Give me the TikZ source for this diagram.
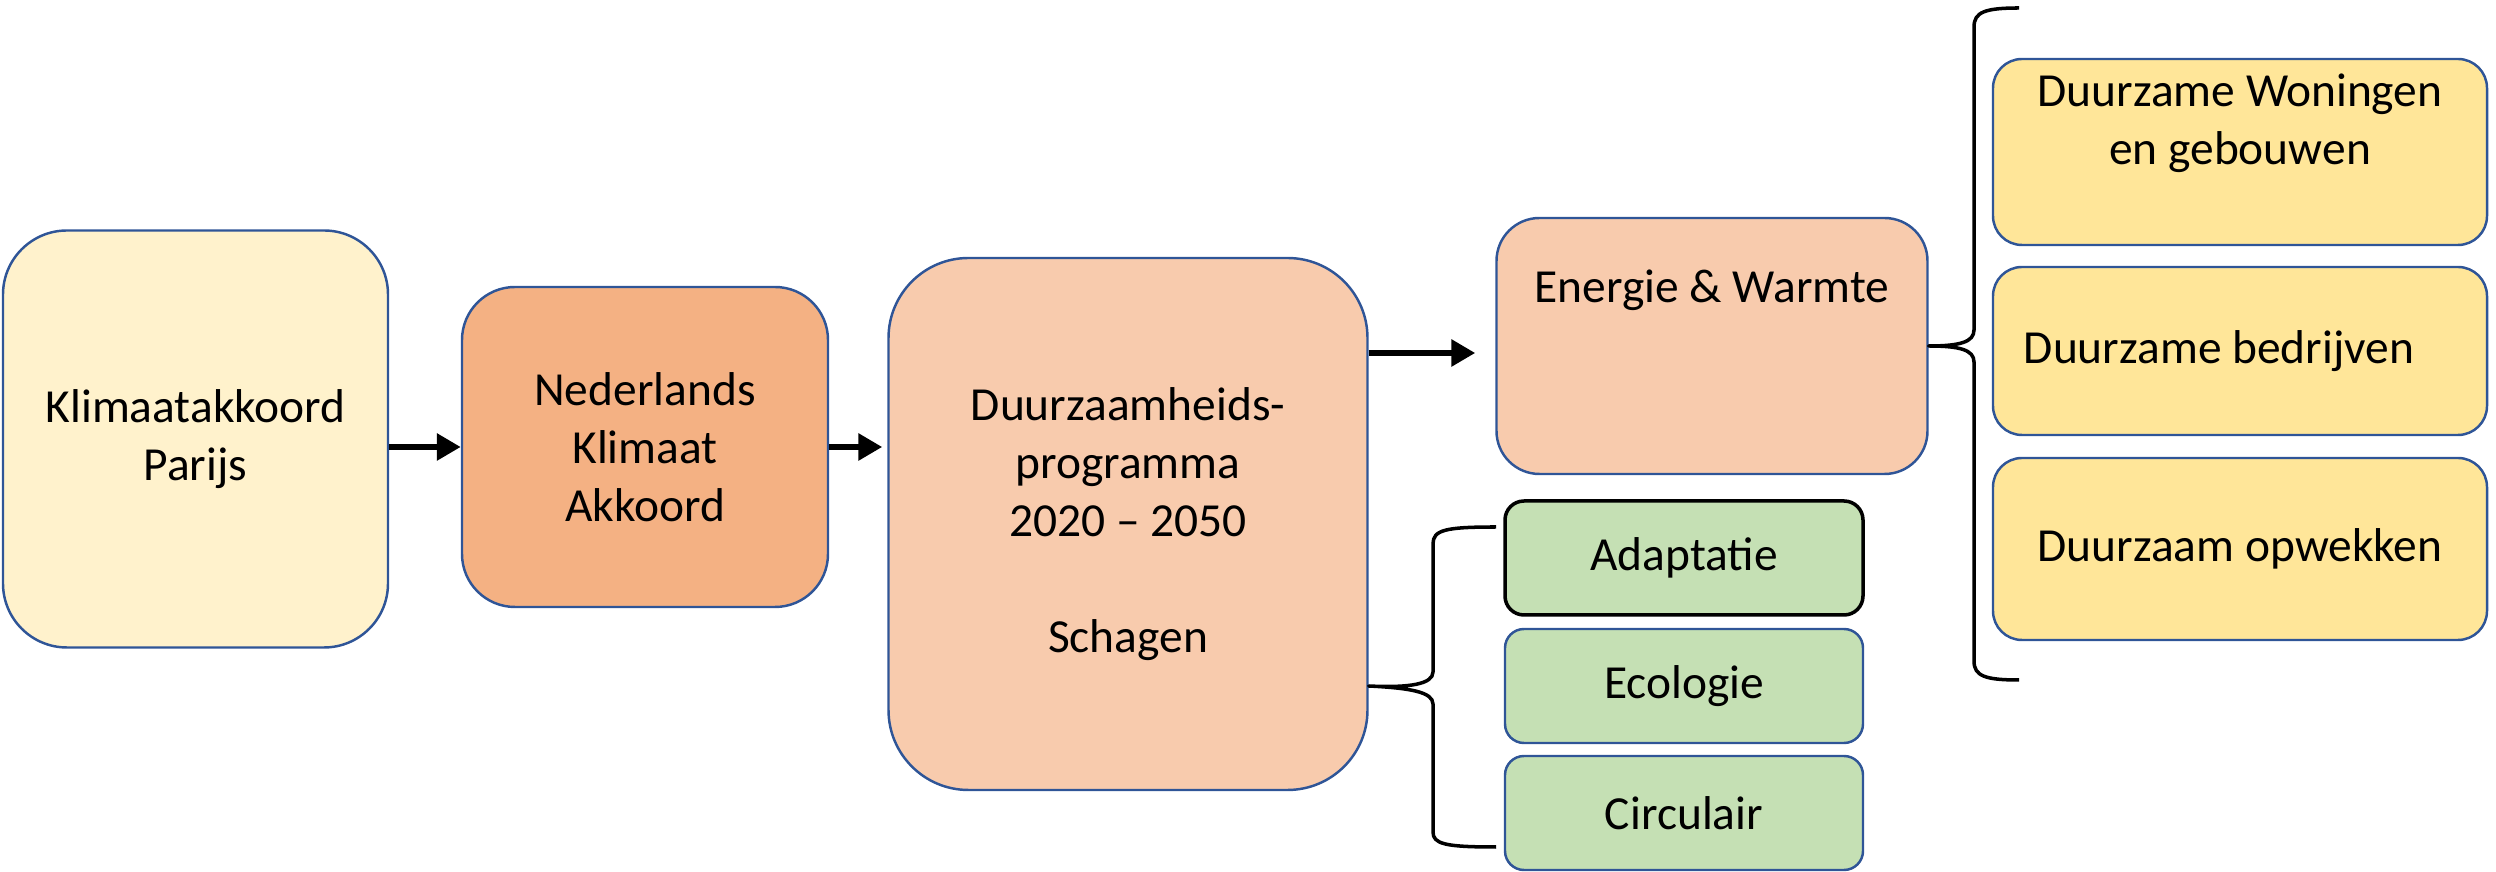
\documentclass[tikz,border=0pt]{standalone}
\usepackage{fontspec}
\setmainfont{Carlito}
\usetikzlibrary{arrows.meta}

\definecolor{lichtgeel}{HTML}{FFF2CC}
\definecolor{oranje}{HTML}{F4B183}
\definecolor{zalm}{HTML}{F8CBAD}
\definecolor{geel}{HTML}{FFE699}
\definecolor{groen}{HTML}{C5E0B4}
\definecolor{rand}{HTML}{2F5597}

\tikzstyle{blok} = [draw=rand, line width=0.7pt, align=center, inner sep=0pt, font=\fontsize{13.5}{16.5}\selectfont]
\tikzstyle{thema} = [blok, fill=geel, minimum width=4.94cm, rounded corners=0.29cm]
\tikzstyle{spoor} = [blok, fill=groen, minimum width=3.58cm, minimum height=1.14cm, rounded corners=0.19cm]
\tikzstyle{pijl} = [line width=1.8pt, -{Triangle[length=0.24cm,width=0.26cm]}]
\tikzstyle{accolade} = [line width=1pt, line join=round]

\begin{document}
\begin{tikzpicture}
\useasboundingbox (0,0) rectangle (24.96,8.72);

\node[blok, fill=lichtgeel, minimum width=3.85cm, minimum height=4.17cm, rounded corners=0.64cm] (kp) at (1.955,4.33) {Klimaatakkoord\\Parijs};
\node[blok, fill=oranje, minimum width=3.66cm, minimum height=3.20cm, rounded corners=0.53cm] (nka) at (6.45,4.25) {Nederlands\\Klimaat\\Akkoord};
\node[blok, fill=zalm, minimum width=4.79cm, minimum height=5.32cm, rounded corners=0.8cm] (dp) at (11.28,3.48) {Duurzaamheids-\\programma\\2020 – 2050\\[16.5pt]Schagen};
\node[blok, fill=zalm, minimum width=4.31cm, minimum height=2.56cm, rounded corners=0.43cm, text height=0.85cm, text depth=1.71cm] (ew) at (17.12,5.26) {Energie \& Warmte};

\node[thema, minimum height=1.86cm, text height=1.06cm, text depth=0.80cm] (dw) at (22.40,7.20) {Duurzame Woningen\\en gebouwen};
\node[thema, minimum height=1.68cm] (db) at (22.40,5.21) {Duurzame bedrijven\hspace*{0.42cm}};
\node[thema, minimum height=1.82cm] (do) at (22.40,3.23) {Duurzaam opwekken};

\node[spoor, draw=black, line width=1pt] (ad) at (16.84,3.14) {Adaptatie};
\node[spoor] (ec) at (16.84,1.86) {Ecologie};
\node[spoor] (ci) at (16.84,0.59) {Circulair};

\draw[pijl] (kp.east |- nka.west) -- (nka.west);
\draw[pijl, shorten >=0.05cm] (nka.east) -- (nka.east -| dp.west);
\coordinate (ewin) at ([xshift=-0.2cm, yshift=-0.07cm]ew.west);
\draw[pijl] (dp.east |- ewin) -- (ewin);

\coordinate (r1) at (20.19,8.64);
\coordinate (r2) at (20.19,1.92);
\draw[accolade] (r1) .. controls (19.85,8.64) and (19.74,8.60) .. (19.74,8.45)
  -- (19.74,5.42) .. controls (19.74,5.30) and (19.60,5.26) .. (ew.east)
  .. controls (19.60,5.26) and (19.74,5.22) .. (19.74,5.10)
  -- (19.74,2.11) .. controls (19.74,1.96) and (19.85,1.92) .. (r2);

\coordinate (l1) at (14.96,3.45);
\coordinate (l2) at (14.96,0.25);
\coordinate (lt) at (dp.east |- ec.west);
\draw[accolade] (l1) .. controls (14.45,3.45) and (14.33,3.42) .. (14.33,3.28)
  -- (14.33,2.0) .. controls (14.33,1.88) and (14.10,1.84) .. (lt)
  .. controls (14.10,1.84) and (14.33,1.80) .. (14.33,1.68)
  -- (14.33,0.40) .. controls (14.33,0.28) and (14.45,0.25) .. (l2);
\end{tikzpicture}
\end{document}
